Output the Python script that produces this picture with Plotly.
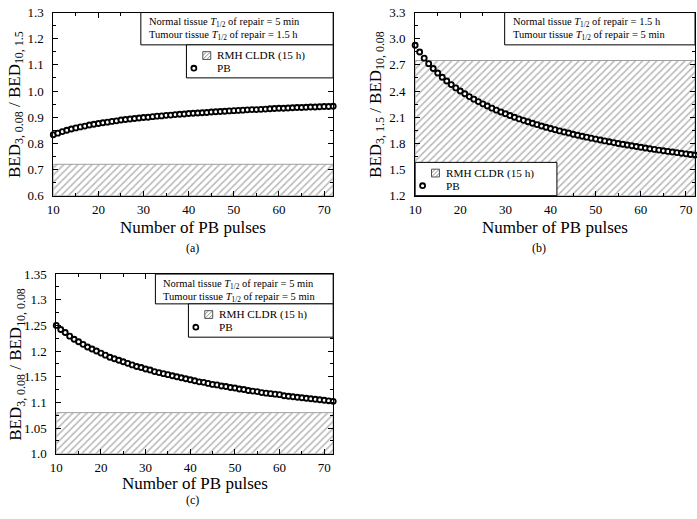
import plotly.graph_objects as go

W, H = 697, 519
FONT = "Liberation Serif"

# ---------------- data ----------------
pulses = list(range(10, 73))

ratio_a = [0.833, 0.839, 0.845, 0.850, 0.855, 0.859, 0.863, 0.866, 0.870, 0.873,
           0.876, 0.879, 0.881, 0.884, 0.886, 0.889, 0.891, 0.893, 0.895, 0.897,
           0.899, 0.900, 0.902, 0.904, 0.905, 0.907, 0.908, 0.910, 0.911, 0.912,
           0.914, 0.915, 0.916, 0.917, 0.918, 0.920, 0.921, 0.922, 0.923, 0.924,
           0.925, 0.926, 0.927, 0.928, 0.929, 0.929, 0.930, 0.931, 0.932, 0.933,
           0.934, 0.934, 0.935, 0.936, 0.937, 0.937, 0.938, 0.939, 0.939, 0.940,
           0.941, 0.941, 0.942]

ratio_b = [2.925, 2.847, 2.777, 2.714, 2.658, 2.606, 2.558, 2.515, 2.474, 2.436,
           2.401, 2.368, 2.336, 2.307, 2.279, 2.253, 2.228, 2.204, 2.181, 2.159,
           2.139, 2.119, 2.100, 2.081, 2.064, 2.047, 2.030, 2.015, 1.999, 1.985,
           1.970, 1.957, 1.943, 1.930, 1.918, 1.905, 1.893, 1.882, 1.871, 1.860,
           1.849, 1.839, 1.828, 1.818, 1.809, 1.799, 1.790, 1.781, 1.772, 1.764,
           1.755, 1.747, 1.739, 1.731, 1.723, 1.716, 1.708, 1.701, 1.694, 1.687,
           1.680, 1.673, 1.666]

ratio_c = [1.250, 1.242, 1.236, 1.229, 1.223, 1.218, 1.213, 1.208, 1.204, 1.200,
           1.196, 1.192, 1.188, 1.185, 1.182, 1.179, 1.176, 1.173, 1.170, 1.168,
           1.165, 1.163, 1.160, 1.158, 1.156, 1.154, 1.152, 1.150, 1.148, 1.146,
           1.144, 1.142, 1.140, 1.139, 1.137, 1.135, 1.134, 1.132, 1.131, 1.129,
           1.128, 1.126, 1.125, 1.123, 1.122, 1.121, 1.119, 1.118, 1.117, 1.116,
           1.115, 1.113, 1.112, 1.111, 1.110, 1.109, 1.108, 1.107, 1.106, 1.105,
           1.104, 1.103, 1.102]

cldr_a = 0.72
cldr_b = 2.75
cldr_c = 1.08

x_range = [10, 72]
x_ticks = [10, 20, 30, 40, 50, 60, 70]

yrange_a = [0.6, 1.3]
yticks_a = [0.6, 0.7, 0.8, 0.9, 1.0, 1.1, 1.2, 1.3]
ytext_a = ["0.6", "0.7", "0.8", "0.9", "1.0", "1.1", "1.2", "1.3"]

yrange_b = [1.2, 3.3]
yticks_b = [1.2, 1.5, 1.8, 2.1, 2.4, 2.7, 3.0, 3.3]
ytext_b = ["1.2", "1.5", "1.8", "2.1", "2.4", "2.7", "3.0", "3.3"]

yrange_c = [1.0, 1.35]
yticks_c = [1.0, 1.05, 1.1, 1.15, 1.2, 1.25, 1.3, 1.35]
ytext_c = ["1.0", "1.05", "1.1", "1.15", "1.2", "1.25", "1.3", "1.35"]

ytitle_a = "BED<sub>3, 0.08</sub> / BED<sub>10, 1.5</sub>"
ytitle_b = "BED<sub>3, 1.5</sub> / BED<sub>10, 0.08</sub>"
ytitle_c = "BED<sub>3, 0.08</sub> / BED<sub>10, 0.08</sub>"
xtitle = "Number of PB pulses"

t_normal_a, t_tumour_a = "5 min", "1.5 h"
t_normal_b, t_tumour_b = "1.5 h", "5 min"
t_normal_c, t_tumour_c = "5 min", "5 min"

legend_cldr = "RMH CLDR (15 h)"
legend_pb = "PB"
panel_labels = ["(a)", "(b)", "(c)"]


def X(px):
    return px / W


def Y(py):
    return 1 - py / H


panels = [
    dict(n="", ratio=ratio_a, cldr=cldr_a, yr=yrange_a, yt=yticks_a, ytt=ytext_a, ymin=0.05,
         xd=(47.7, 330), yd=(5.7, 194.3), ytitle=ytitle_a, tn=t_normal_a, tt=t_tumour_a,
         tbox=(136, 5.7, 330, 39), lbox=(182, 39, 330, 73),
         xt=(188.9, 226.7), yti=(10, 100), lab=(188, 248)),
    dict(n="2", ratio=ratio_b, cldr=cldr_b, yr=yrange_b, yt=yticks_b, ytt=ytext_b, ymin=0.15,
         xd=(412.7, 695), yd=(5.7, 194.3), ytitle=ytitle_b, tn=t_normal_b, tt=t_tumour_b,
         tbox=(503, 5.7, 695, 39), lbox=(412.7, 160, 555.7, 194.3),
         xt=(553.9, 226.7), yti=(374, 100), lab=(538, 248)),
    dict(n="3", ratio=ratio_c, cldr=cldr_c, yr=yrange_c, yt=yticks_c, ytt=ytext_c, ymin=0.025,
         xd=(50.7, 330), yd=(275, 460), ytitle=ytitle_c, tn=t_normal_c, tt=t_tumour_c,
         tbox=(150.7, 275, 330, 305.7), lbox=(184, 305.7, 330, 340),
         xt=(190.4, 491), yti=(11, 367.5), lab=(188, 508)),
]

fig = go.Figure()
shapes = []
annotations = []

for i, p in enumerate(panels):
    xa = "x" + p["n"]
    ya = "y" + p["n"]
    # hatched CLDR region
    y0 = p["yr"][0]
    fig.add_trace(go.Scatter(
        x=[x_range[0], x_range[1], x_range[1], x_range[0], x_range[0]],
        y=[y0, y0, p["cldr"], p["cldr"], y0],
        mode="lines", fill="toself",
        line=dict(color="#a0a0a0", width=1),
        fillcolor="white",
        fillpattern=dict(shape="/", size=5, solidity=0.3, fgcolor="#707070", bgcolor="white"),
        xaxis=xa, yaxis=ya, showlegend=False, hoverinfo="skip"))
    # PB points
    fig.add_trace(go.Scatter(
        x=pulses, y=p["ratio"], mode="markers",
        marker=dict(symbol="circle", size=5, color="white",
                    line=dict(color="black", width=1.9)),
        xaxis=xa, yaxis=ya, showlegend=False, cliponaxis=False))

    common = dict(showline=True, linecolor="black", linewidth=1, mirror="ticks",
                  ticks="inside", ticklen=5, tickcolor="black", showgrid=False,
                  zeroline=False, tickfont=dict(family=FONT, size=13, color="black"))
    fig.update_layout(**{
        "xaxis" + p["n"]: dict(
            domain=[X(p["xd"][0]), X(p["xd"][1])], range=x_range,
            tickvals=x_ticks, anchor=ya,
            minor=dict(dtick=5, tick0=0, ticks="inside", ticklen=3, tickcolor="black"),
            ticklabelstandoff=2, **common),
        "yaxis" + p["n"]: dict(
            domain=[Y(p["yd"][1]), Y(p["yd"][0])], range=p["yr"],
            tickvals=p["yt"], ticktext=p["ytt"], anchor=xa,
            minor=dict(dtick=p["ymin"], tick0=p["yr"][0], ticks="inside", ticklen=3,
                       tickcolor="black"),
            ticklabelstandoff=6, **common),
    })

    # axis titles and panel label
    annotations.append(dict(x=X(p["xt"][0]), y=Y(p["xt"][1]), xref="paper", yref="paper",
                            text=xtitle, showarrow=False, xanchor="center", yanchor="middle",
                            font=dict(family=FONT, size=17, color="black")))
    annotations.append(dict(x=X(p["yti"][0]), y=Y(p["yti"][1]), xref="paper", yref="paper",
                            text=p["ytitle"], showarrow=False, textangle=-90,
                            xanchor="center", yanchor="middle",
                            font=dict(family=FONT, size=17, color="black")))
    annotations.append(dict(x=X(p["lab"][0]), y=Y(p["lab"][1]), xref="paper", yref="paper",
                            text=panel_labels[i], showarrow=False,
                            xanchor="center", yanchor="middle",
                            font=dict(family=FONT, size=12, color="black")))

    # text box
    bx0, by0, bx1, by1 = p["tbox"]
    shapes.append(dict(type="rect", xref="paper", yref="paper",
                       x0=X(bx0), x1=X(bx1), y0=Y(by1), y1=Y(by0),
                       line=dict(color="black", width=1), fillcolor="white", layer="above"))
    for k, (tissue, val) in enumerate([("Normal", p["tn"]), ("Tumour", p["tt"])]):
        annotations.append(dict(
            x=X(bx0 + 6), y=Y(by0 + 10.5 + 13.3 * k), xref="paper", yref="paper",
            text=f"{tissue} tissue <i>T</i><sub>1/2</sub> of repair = {val}",
            showarrow=False, xanchor="left", yanchor="middle",
            font=dict(family=FONT, size=10.5, color="black")))

    # legend box
    L, T, R, B = p["lbox"]
    shapes.append(dict(type="rect", xref="paper", yref="paper",
                       x0=X(L), x1=X(R), y0=Y(B), y1=Y(T),
                       line=dict(color="black", width=1), fillcolor="white", layer="above"))
    sx0, sx1, sy0, sy1 = L + 16.5, L + 24.5, T + 7, T + 15
    shapes.append(dict(type="rect", xref="paper", yref="paper",
                       x0=X(sx0), x1=X(sx1), y0=Y(sy1), y1=Y(sy0),
                       line=dict(color="#505050", width=1), fillcolor="white", layer="above"))
    a = sx1 - sx0
    path = ""
    for t in (a * 0.5, a, a * 1.5):
        if t <= a:
            p0, p1 = (sx0, sy0 + t), (sx0 + t, sy0)
        else:
            p0, p1 = (sx0 + t - a, sy1), (sx1, sy0 + t - a)
        path += f"M{X(p0[0])},{Y(p0[1])} L{X(p1[0])},{Y(p1[1])} "
    shapes.append(dict(type="path", xref="paper", yref="paper", path=path,
                       line=dict(color="#707070", width=0.8), layer="above"))
    cx, cy, r = L + 7.5, T + 24, 2.5
    shapes.append(dict(type="circle", xref="paper", yref="paper",
                       x0=X(cx - r), x1=X(cx + r), y0=Y(cy + r), y1=Y(cy - r),
                       line=dict(color="black", width=1.8), fillcolor="white", layer="above"))
    for k, txt in enumerate([legend_cldr, legend_pb]):
        annotations.append(dict(
            x=X(L + 29), y=Y(T + 11 + 13 * k), xref="paper", yref="paper",
            text=txt, showarrow=False, xanchor="left", yanchor="middle",
            font=dict(family=FONT, size=11.2, color="black")))

fig.update_layout(width=W, height=H, margin=dict(l=0, r=0, t=0, b=0),
                  paper_bgcolor="white", plot_bgcolor="white",
                  shapes=shapes, annotations=annotations,
                  font=dict(family=FONT, color="black"), showlegend=False)

fig.write_html("out.html", config={"displayModeBar": False},
               post_script="document.documentElement.style.margin='0px';"
                           "document.body.style.margin='0px';"
                           "document.body.style.padding='0px';"
                           "document.documentElement.style.overflow='hidden';"
                           "window.scrollTo(0,0);")
